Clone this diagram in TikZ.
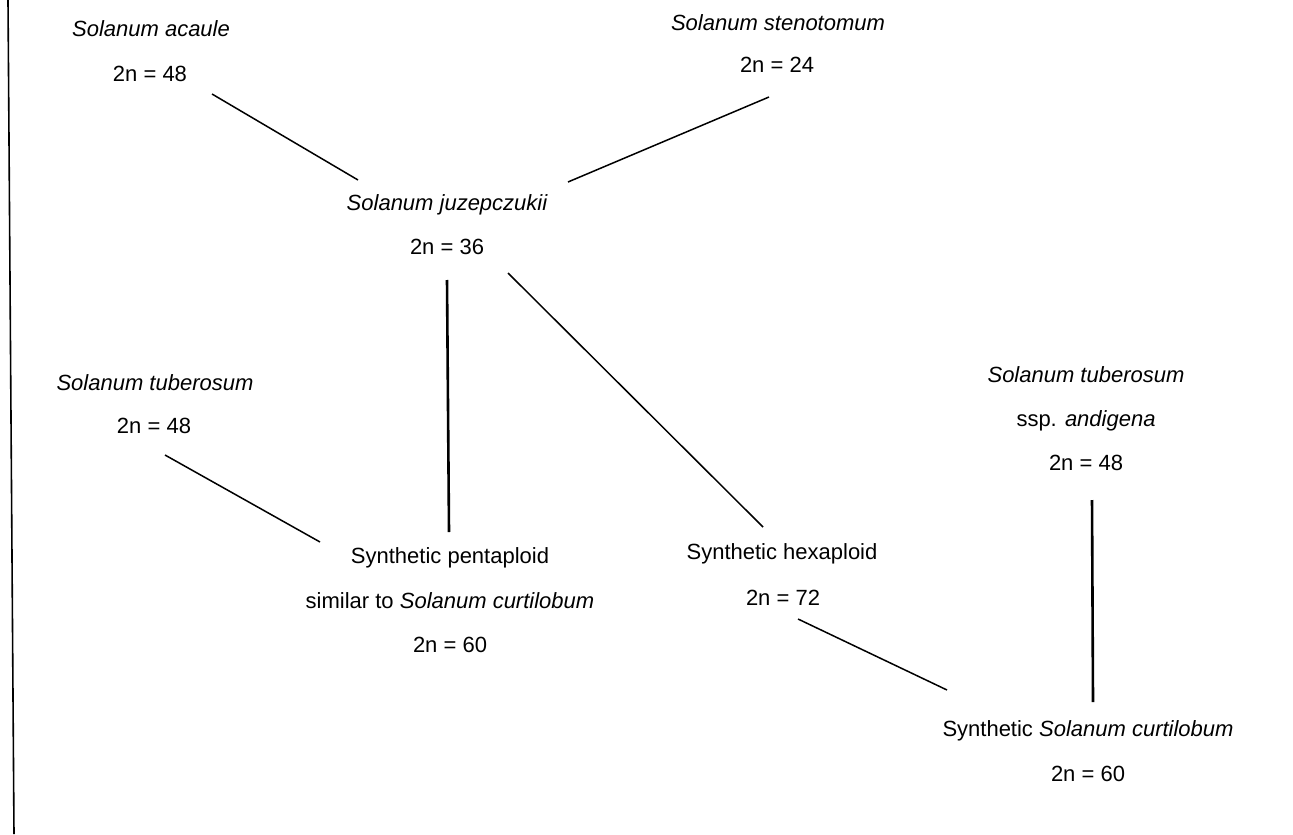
\documentclass[tikz,border=0pt]{standalone}
\usepackage{fontspec}
\setmainfont{Liberation Sans}
\begin{document}
\begin{tikzpicture}[x=0.5pt,y=-0.5pt,
  lbl/.style={anchor=base,inner sep=0pt,font=\fontsize{11}{13}\selectfont},
  thinlink/.style={line width=0.75pt},
  thicklink/.style={line width=1.3pt},
  frameline/.style={line width=0.8pt}]
\useasboundingbox (0,0) rectangle (1293,834);
% left frame line
\coordinate (frametop) at (8,0);
\coordinate (framebot) at (14,834);
\draw[frameline] (frametop) -- (framebot);
% nodes
\node[lbl] (acaule)   at (151,37)  {\itshape Solanum acaule};
\node[lbl] (acaulen)  at (150,82)  {2n = 48};
\node[lbl] (steno)    at (778,31)  {\itshape Solanum stenotomum};
\node[lbl] (stenon)   at (777,73)  {2n = 24};
\node[lbl] (juz)      at (447,210) {\itshape Solanum juzepczukii};
\node[lbl] (juzn)     at (447,254) {2n = 36};
\node[lbl] (tub)      at (155,390) {\itshape Solanum tuberosum};
\node[lbl] (tubn)     at (154,433) {2n = 48};
\node[lbl] (pent)     at (450,563) {Synthetic pentaploid};
\node[lbl] (pentsim)  at (450,608) {similar to \textit{Solanum curtilobum}};
\node[lbl] (pentn)    at (450,652) {2n = 60};
\node[lbl] (hex)      at (782,559) {Synthetic hexaploid};
\node[lbl] (hexn)     at (783,605) {2n = 72};
\node[lbl] (andi)     at (1086,382) {\itshape Solanum tuberosum};
\node[lbl] (andissp)  at (1086,426) {ssp. \textit{andigena}};
\node[lbl] (andin)    at (1086,470) {2n = 48};
\node[lbl] (curt)     at (1088,736) {Synthetic \textit{Solanum curtilobum}};
\node[lbl] (curtn)    at (1088,781) {2n = 60};
% connector end points
\coordinate (acaule-out) at (212,94);
\coordinate (juz-inL)    at (358,180);
\coordinate (steno-out)  at (769,97);
\coordinate (juz-inR)    at (568,182);
\coordinate (juz-outV)   at (447,280);
\coordinate (pent-inV)   at (449,532);
\coordinate (juz-outD)   at (508,273);
\coordinate (hex-in)     at (763,527);
\coordinate (tub-out)    at (165,455);
\coordinate (pent-inL)   at (320,542);
\coordinate (hex-out)    at (798,619);
\coordinate (curt-inL)   at (947,690);
\coordinate (andi-out)   at (1092,500);
\coordinate (curt-inV)   at (1093,702);
% connectors
\draw[thinlink]  (acaule-out) -- (juz-inL);
\draw[thinlink]  (steno-out)  -- (juz-inR);
\draw[thicklink] (juz-outV)   -- (pent-inV);
\draw[thinlink]  (juz-outD)   -- (hex-in);
\draw[thinlink]  (tub-out)    -- (pent-inL);
\draw[thinlink]  (hex-out)    -- (curt-inL);
\draw[thicklink] (andi-out)   -- (curt-inV);
\end{tikzpicture}
\end{document}
